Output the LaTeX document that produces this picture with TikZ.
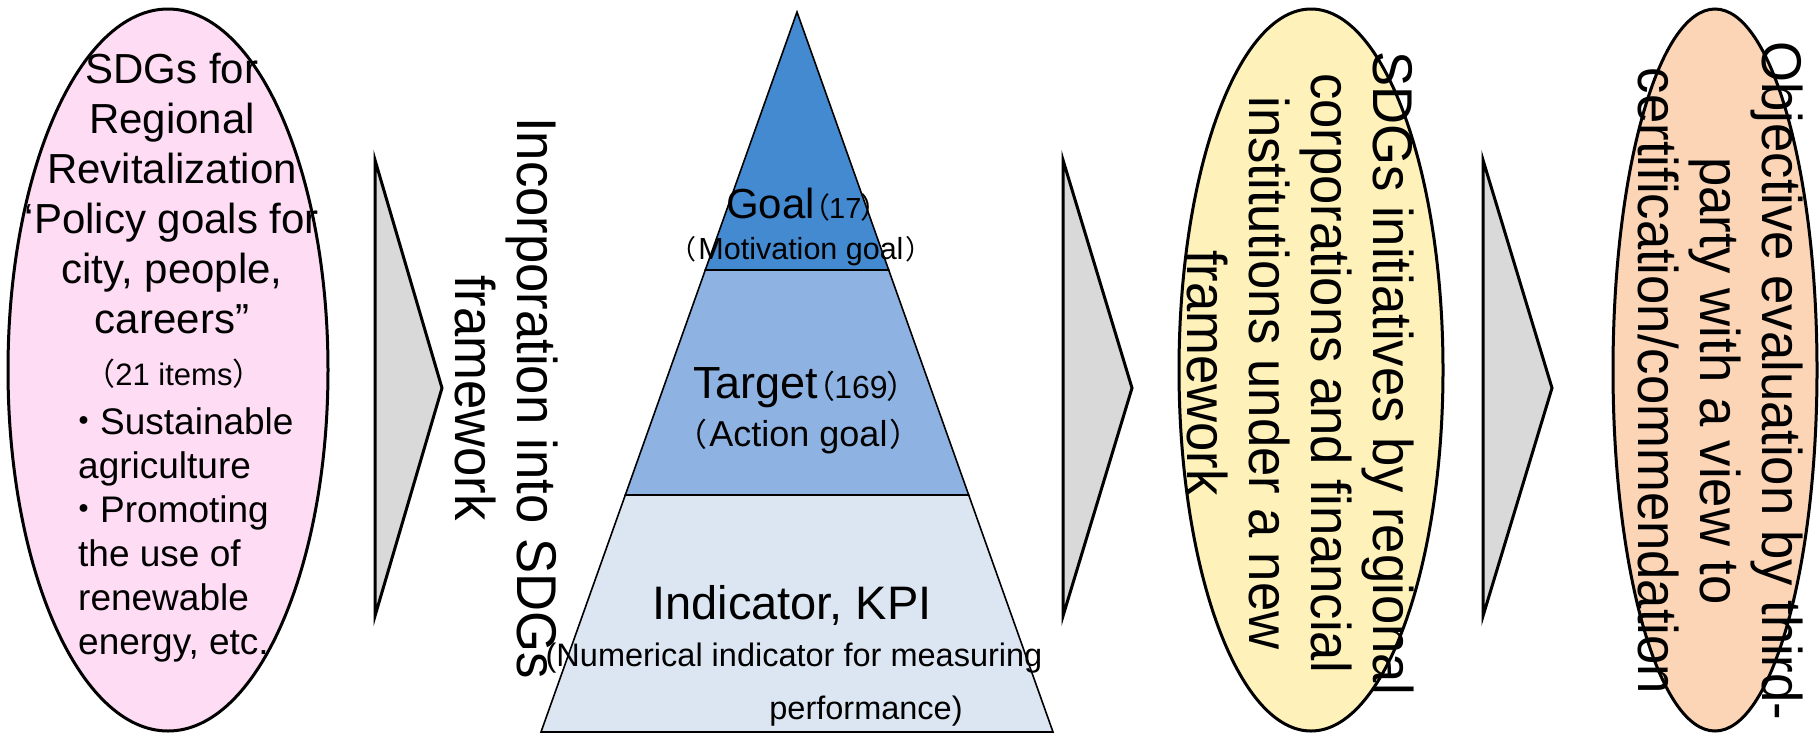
\documentclass[tikz,border=0pt]{standalone}
\usepackage{fontspec}
\setmainfont{Liberation Sans}
\newfontfamily\cjk[RawFeature=+palt]{Noto Sans CJK JP}
\newfontfamily\cjkfull{Noto Sans CJK JP}
\newfontfamily\narrowsans[FakeStretch=0.94]{Liberation Sans}
\usetikzlibrary{shapes.geometric}
\definecolor{pinkfill}{HTML}{FDDCF4}
\definecolor{yellowfill}{HTML}{FEF2BA}
\definecolor{orangefill}{HTML}{FBD5B5}
\definecolor{arrowgray}{HTML}{D9D9D9}
\definecolor{pyrtop}{HTML}{448AD0}
\definecolor{pyrmid}{HTML}{8EB3E2}
\definecolor{pyrbot}{HTML}{DCE6F2}
\newcommand\lpar{{\cjk （}}
\newcommand\rpar{{\cjk ）}}
\newcommand\lfpar[1]{{\cjkfull\fs{#1}（}}
\newcommand\rfpar[1]{{\cjkfull\fs{#1}）}}
\newcommand\fs[1]{\fontsize{#1}{#1}\selectfont}
\begin{document}
\begin{tikzpicture}[x=1pt,y=-1pt,
  oval/.style={ellipse, draw=black, line width=3pt, inner sep=0pt},
  chevron/.style={draw=black, fill=arrowgray, line width=3pt, line join=miter},
  band/.style={draw=black, line width=1.6pt, line join=miter},
  txt/.style={inner sep=0pt, text=black},
  vtxt/.style={txt, rotate=-90, anchor=north, align=center,
    font=\narrowsans\fontsize{56}{62}\selectfont},
]
\useasboundingbox (0,0) rectangle (1819,734);

% ovals
\node[oval, fill=pinkfill, minimum width=320pt, minimum height=722pt] (pinkoval) at (168,370) {};
\node[oval, fill=yellowfill, minimum width=264pt, minimum height=722pt] (yellowoval) at (1311,370) {};
\node[oval, fill=orangefill, minimum width=204pt, minimum height=722pt] (orangeoval) at (1715,370) {};

% block arrows
\draw[chevron] (375,160) -- (442,388) -- (375,616) -- cycle;
\draw[chevron] (1063,160) -- (1132,388) -- (1063,616) -- cycle;
\draw[chevron] (1483,160) -- (1552,388) -- (1483,616) -- cycle;

% pyramid
\draw[band, fill=pyrbot] (625.3,495) -- (968.7,495) -- (1053,732) -- (541,732) -- cycle;
\draw[band, fill=pyrmid] (705.3,270) -- (888.7,270) -- (968.7,495) -- (625.3,495) -- cycle;
\draw[band, fill=pyrtop] (797,12) -- (888.7,270) -- (705.3,270) -- cycle;

% pyramid texts
\node[txt, anchor=north, align=center, font=\fontsize{30}{41}\selectfont] (goal) at (801,187.5)
  {{\fs{42}Goal\fs{29}\lpar 17\rpar}\\{\fs{30.5}\lfpar{27}\hspace{2pt}Motivation goal\hspace{2pt}\rfpar{27}}};
\node[txt, anchor=north, align=center, font=\fontsize{34}{48}\selectfont] (target) at (798.5,367.2)
  {{\fs{45}Target\fs{32}\lpar 169\rpar}\\{\fs{36}\lfpar{32}\hspace{2pt}Action goal\hspace{2pt}\rfpar{32}}};
\node[txt, anchor=base] (indicator) at (792,619) {\fs{47}Indicator, KPI};
\node[txt, anchor=base] (indsub) at (794,666) {\fs{32.5}(Numerical indicator for measuring};
\node[txt, anchor=base] (indsubb) at (866,719) {\fs{32.5}performance)};

% left oval texts
\node[txt, anchor=north, align=center, font=\fontsize{42}{50}\selectfont] (pinktitle) at (172,52.5)
  {SDGs for\\Regional\\Revitalization\\‘Policy goals for\\city, people,\\careers”};
\node[txt, anchor=base] (pinkcount) at (174,385) {\fs{31}\lfpar{31}21 items\rfpar{31}};
\node[txt, anchor=north west, align=left, font=\fontsize{37}{44}\selectfont] (pinklist) at (78,407)
  {\hspace*{-12.5pt}{\cjkfull ・}\hspace*{-2.5pt}Sustainable\\agriculture\\
   \hspace*{-12.5pt}{\cjkfull ・}\hspace*{-2.5pt}Promoting\\the use of\\renewable\\energy, etc.};

% rotated texts
\node[vtxt] (incorp) at (558,398) {Incorporation into SDGs\\framework};
\node[vtxt] (yellowtext) at (1414,373)
  {SDGs initiatives by regional\\corporations and financial\\institutions under a new\\framework};
\node[vtxt] (orangetext) at (1803,381)
  {Objective evaluation by third-\\party with a view to\\certification/commendation};
\end{tikzpicture}
\end{document}
